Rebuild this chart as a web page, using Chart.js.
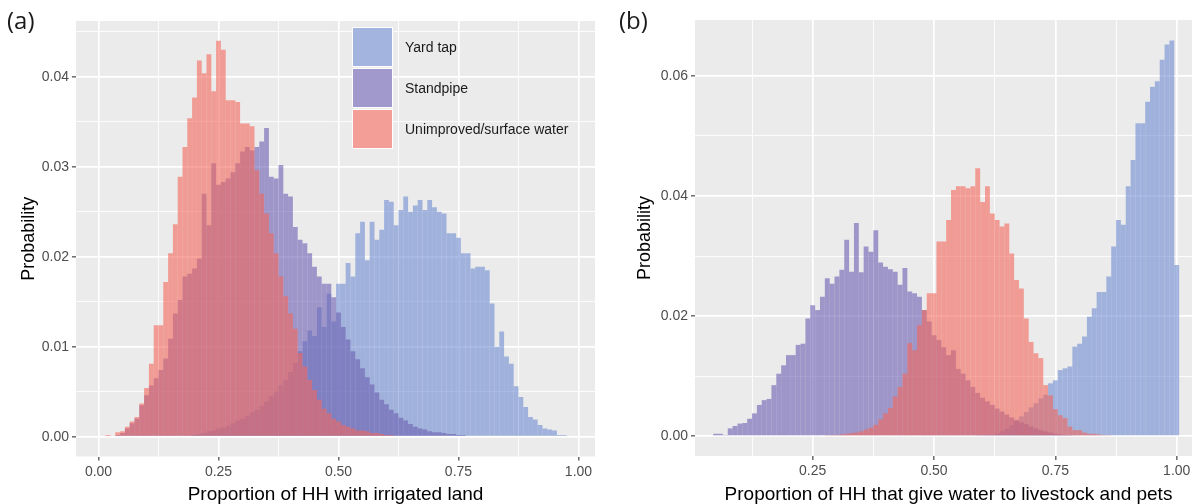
<!DOCTYPE html>
<html>
<head>
<meta charset="utf-8">
<title>Proportion of HH histograms</title>
<script src="https://cdn.jsdelivr.net/npm/chart.js@4.4.1/dist/chart.umd.min.js"></script>
<style>
  html, body { margin: 0; padding: 0; background: #ffffff; }
  #page { position: relative; width: 1192px; height: 504px; overflow: hidden; background: #ffffff;
          font-family: 'Liberation Sans', Arial, sans-serif; }
  canvas { position: absolute; top: 0; }
  #chartA { left: 0; }
  #chartB { left: 600px; }
  .tag { position: absolute; top: 8px; font-family: 'Open Sans', sans-serif; font-size: 24px;
         line-height: 1; color: #1a1a1a; }
  #legend { position: absolute; left: 352px; top: 26px; }
  .legend-row { display: flex; align-items: center; height: 41px; }
  .legend-key { width: 39px; height: 38px; background: #f2f2f2; border: 1.5px solid #ffffff; position: relative; }
  .legend-key div { position: absolute; inset: 0; }
  .legend-label { margin-left: 12px; font-size: 14px; color: #1a1a1a; white-space: nowrap; }
</style>
</head>
<body>
<div id="page">
  <canvas id="chartA" width="600" height="504"></canvas>
  <canvas id="chartB" width="602" height="504"></canvas>
  <div class="tag" style="left:7px">(a)</div>
  <div class="tag" style="left:619px">(b)</div>
  <div id="legend"></div>
</div>
<script>
// Histogram bins: bin k is centred on k * binWidth
const binWidth = 0.01;

const seriesNames = ['Yard tap', 'Standpipe', 'Unimproved/surface water'];
const seriesColors = ['rgba(110, 140, 210, 0.6)', 'rgba(107, 93, 177, 0.6)', 'rgba(243, 102, 90, 0.6)'];

// (a) Proportion of HH with irrigated land, bins 0.00 .. 0.99
const irrigYardTap = [
  0, 0, 0, 0, 0, 0, 0, 0, 0, 0,
  0, 0, 0, 0, 0, 0, 0, 0, 0, 0,
  0.0002, 0.0003, 0.0004, 0.0006, 0.0007, 0.0009, 0.0010, 0.0012, 0.0015, 0.0018,
  0.0020, 0.0023, 0.0027, 0.0030, 0.0034, 0.0039, 0.0045, 0.0050, 0.0057, 0.0063,
  0.0072, 0.0082, 0.0095, 0.0106, 0.0118, 0.0112, 0.0144, 0.0122, 0.0159, 0.0128,
  0.0170, 0.0170, 0.0193, 0.0178, 0.0226, 0.0239, 0.0196, 0.0239, 0.0219, 0.0230,
  0.0263, 0.0261, 0.0235, 0.0252, 0.0267, 0.0250, 0.0257, 0.0263, 0.0252, 0.0263,
  0.0255, 0.0250, 0.0248, 0.0226, 0.0226, 0.0221, 0.0204, 0.0204, 0.0187, 0.0189,
  0.0189, 0.0185, 0.0148, 0.0100, 0.0117, 0.0089, 0.0081, 0.0056, 0.0044, 0.0033,
  0.0022, 0.0019, 0.0013, 0.0009, 0.0008, 0.0007, 0.0002, 0.0002, 0, 0
];
const irrigStandpipe = [
  0, 0, 0, 0, 0.0002, 0.0004, 0.0009, 0.0015, 0.0020, 0.0035,
  0.0046, 0.0057, 0.0065, 0.0074, 0.0087, 0.0109, 0.0137, 0.0152, 0.0178, 0.0181,
  0.0187, 0.0198, 0.0270, 0.0235, 0.0304, 0.0280, 0.0283, 0.0287, 0.0294, 0.0304,
  0.0317, 0.0322, 0.0318, 0.0322, 0.0328, 0.0343, 0.0289, 0.0287, 0.0302, 0.0270,
  0.0267, 0.0233, 0.0219, 0.0215, 0.0204, 0.0189, 0.0178, 0.0170, 0.0170, 0.0155,
  0.0138, 0.0122, 0.0108, 0.0095, 0.0086, 0.0076, 0.0066, 0.0058, 0.0049, 0.0041,
  0.0036, 0.0030, 0.0026, 0.0021, 0.0018, 0.0014, 0.0011, 0.0009, 0.0008, 0.0006,
  0.0005, 0.0005, 0.0004, 0.0003, 0.0003, 0.0002, 0.0002, 0.0001, 0.0001, 0,
  0, 0, 0, 0, 0, 0, 0, 0, 0, 0,
  0, 0, 0, 0, 0, 0, 0, 0, 0, 0
];
const irrigUnimproved = [
  0, 0.0001, 0.0002, 0.0001, 0.0005, 0.0006, 0.0011, 0.0017, 0.0022, 0.0037,
  0.0054, 0.0081, 0.0124, 0.0124, 0.0172, 0.0204, 0.0236, 0.0289, 0.0322, 0.0354,
  0.0377, 0.0418, 0.0404, 0.0425, 0.0384, 0.0440, 0.0430, 0.0374, 0.0374, 0.0372,
  0.0348, 0.0348, 0.0345, 0.0296, 0.0270, 0.0248, 0.0226, 0.0204, 0.0178, 0.0156,
  0.0137, 0.0120, 0.0093, 0.0078, 0.0063, 0.0052, 0.0041, 0.0031, 0.0026, 0.0020,
  0.0017, 0.0013, 0.0011, 0.0009, 0.0007, 0.0007, 0.0006, 0.0004, 0.0004, 0.0003,
  0.0002, 0.0002, 0.0001, 0.0001, 0.0001, 0, 0, 0, 0, 0,
  0, 0, 0, 0, 0, 0, 0, 0, 0, 0,
  0, 0, 0, 0, 0, 0, 0, 0, 0, 0,
  0, 0, 0, 0, 0, 0, 0, 0, 0, 0
];

// (b) Proportion of HH that give water to livestock and pets, bins 0.00 .. 1.00
const livestockYardTap = [
  0, 0, 0, 0, 0, 0, 0, 0, 0, 0,
  0, 0, 0, 0, 0, 0, 0, 0, 0, 0,
  0, 0, 0, 0, 0, 0, 0, 0, 0, 0,
  0, 0, 0, 0, 0, 0, 0, 0, 0, 0,
  0, 0, 0, 0, 0, 0, 0, 0, 0, 0,
  0, 0, 0, 0, 0, 0, 0, 0, 0, 0.0001,
  0.0001, 0.0001, 0.0002, 0.0004, 0.0008, 0.0012, 0.0018, 0.0025, 0.0033, 0.0040,
  0.0048, 0.0055, 0.0063, 0.0069, 0.0088, 0.0093, 0.0110, 0.0113, 0.0116, 0.0149,
  0.0154, 0.0166, 0.0199, 0.0213, 0.0240, 0.0240, 0.0266, 0.0316, 0.0360, 0.0352,
  0.0416, 0.0460, 0.0521, 0.0521, 0.0557, 0.0582, 0.0591, 0.0627, 0.0652, 0.0659,
  0.0285
];
const livestockStandpipe = [
  0, 0, 0, 0, 0, 0.0004, 0.0004, 0.0002, 0.0013, 0.0017,
  0.0021, 0.0022, 0.0029, 0.0038, 0.0052, 0.0060, 0.0062, 0.0085, 0.0104, 0.0118,
  0.0135, 0.0135, 0.0152, 0.0154, 0.0196, 0.0218, 0.0210, 0.0232, 0.0263, 0.0254,
  0.0266, 0.0277, 0.0327, 0.0274, 0.0355, 0.0273, 0.0316, 0.0307, 0.0343, 0.0289,
  0.0282, 0.0278, 0.0274, 0.0252, 0.0280, 0.0241, 0.0238, 0.0232, 0.0210, 0.0191,
  0.0168, 0.0160, 0.0148, 0.0135, 0.0143, 0.0112, 0.0104, 0.0093, 0.0082, 0.0072,
  0.0064, 0.0058, 0.0052, 0.0046, 0.0041, 0.0036, 0.0031, 0.0027, 0.0023, 0.0020,
  0.0016, 0.0013, 0.0010, 0.0008, 0.0006, 0.0004, 0.0003, 0.0002, 0.0001, 0,
  0, 0, 0, 0, 0, 0, 0, 0, 0, 0,
  0, 0, 0, 0, 0, 0, 0, 0, 0, 0,
  0
];
const livestockUnimproved = [
  0, 0, 0, 0, 0, 0, 0, 0, 0, 0,
  0, 0, 0, 0, 0, 0, 0, 0, 0, 0,
  0, 0, 0, 0, 0, 0, 0, 0, 0.0001, 0.0002,
  0.0002, 0.0003, 0.0004, 0.0005, 0.0006, 0.0008, 0.0011, 0.0014, 0.0019, 0.0028,
  0.0038, 0.0047, 0.0066, 0.0082, 0.0104, 0.0155, 0.0143, 0.0185, 0.0210, 0.0238,
  0.0238, 0.0324, 0.0324, 0.0360, 0.0410, 0.0416, 0.0416, 0.0413, 0.0416, 0.0446,
  0.0390, 0.0416, 0.0371, 0.0360, 0.0349, 0.0354, 0.0304, 0.0260, 0.0246, 0.0196,
  0.0157, 0.0138, 0.0130, 0.0085, 0.0068, 0.0045, 0.0035, 0.0030, 0.0016, 0.0010,
  0.0010, 0.0006, 0.0004, 0.0004, 0.0003, 0.0002, 0.0001, 0, 0, 0,
  0, 0, 0, 0, 0, 0, 0, 0, 0, 0,
  0
];

// Axis breaks (major labelled, minor only as thin grid lines)
const irrigXTicks = [0, 0.25, 0.5, 0.75, 1];
const irrigXMinor = [0.125, 0.375, 0.625, 0.875];
const irrigYTicks = [0, 0.01, 0.02, 0.03, 0.04];
const irrigYMinor = [0.005, 0.015, 0.025, 0.035, 0.045];
const livestockXTicks = [0.25, 0.5, 0.75, 1];
const livestockXMinor = [0.125, 0.375, 0.625, 0.875];
const livestockYTicks = [0, 0.02, 0.04, 0.06];
const livestockYMinor = [0.01, 0.03, 0.05];

Chart.defaults.font.family = "'Liberation Sans', Arial, sans-serif";
Chart.defaults.animation = false;

// grey ggplot-style panel behind the grid
const panelBackground = {
    id: 'panelBackground',
    beforeDraw(chart) {
        const { ctx, chartArea } = chart;
        ctx.save();
        ctx.fillStyle = '#EBEBEB';
        ctx.fillRect(chartArea.left, chartArea.top, chartArea.right - chartArea.left, chartArea.bottom - chartArea.top);
        ctx.restore();
    }
};

function toBins(values) {
    return values.map((y, k) => ({ x: Math.round(k * binWidth * 100) / 100, y: y }));
}

function isIn(list, v) {
    return list.some(m => Math.abs(m - v) < 1e-9);
}

function makeScale(cfg) {
    const all = cfg.major.concat(cfg.minor).sort((a, b) => a - b);
    return {
        type: 'linear',
        position: cfg.position,
        min: cfg.min,
        max: cfg.max,
        offset: false,
        border: { display: false },
        afterBuildTicks: (scale) => {
            scale.ticks = all.map(v => ({ value: v }));
        },
        afterFit: (scale) => {
            if (scale.isHorizontal()) {
                scale.height = cfg.size;
            } else {
                scale.width = cfg.size;
            }
        },
        ticks: {
            autoSkip: false,
            maxRotation: 0,
            padding: 3,
            color: '#4D4D4D',
            font: { size: 14 },
            callback: (v) => isIn(cfg.major, v) ? v.toFixed(2) : ''
        },
        grid: {
            offset: false,
            color: '#FFFFFF',
            lineWidth: (c) => (c.tick && isIn(cfg.major, c.tick.value)) ? 1.7 : 0.85,
            drawTicks: true,
            tickLength: 4,
            tickWidth: 1.1,
            tickColor: (c) => (c.tick && isIn(cfg.major, c.tick.value)) ? '#333333' : 'rgba(0,0,0,0)'
        },
        title: {
            display: true,
            text: cfg.title,
            color: '#000000',
            font: { size: cfg.titleSize, lineHeight: 1 },
            padding: cfg.titlePadding
        }
    };
}

function renderPanel(canvasId, panel) {
    const ctx = document.getElementById(canvasId);
    const datasets = panel.series.map((values, i) => ({
        label: seriesNames[i],
        data: toBins(values),
        backgroundColor: seriesColors[i],
        borderWidth: 0,
        grouped: false,
        barPercentage: 1,
        categoryPercentage: 1,
        inflateAmount: 0,
        order: panel.series.length - i
    }));

    return new Chart(ctx, {
        type: 'bar',
        data: { datasets: datasets },
        options: {
            responsive: false,
            maintainAspectRatio: false,
            layout: { padding: panel.padding },
            plugins: {
                legend: { display: false },
                tooltip: { enabled: false }
            },
            scales: {
                x: makeScale(panel.x),
                y: makeScale(panel.y)
            }
        },
        plugins: [panelBackground]
    });
}

function renderLegend() {
    const box = document.getElementById('legend');
    seriesNames.forEach((name, i) => {
        const row = document.createElement('div');
        row.className = 'legend-row';
        row.innerHTML = `<div class="legend-key"><div style="background:${seriesColors[i]}"></div></div>` +
                        `<span class="legend-label">${name}</span>`;
        box.appendChild(row);
    });
}

renderPanel('chartA', {
    series: [irrigYardTap, irrigStandpipe, irrigUnimproved],
    padding: { left: 0, top: 21, right: 5, bottom: 0 },
    x: { position: 'bottom', min: -0.0469, max: 1.0344, major: irrigXTicks, minor: irrigXMinor, size: 47.5,
         title: 'Proportion of HH with irrigated land', titleSize: 19, titlePadding: { top: 0, bottom: 0 } },
    y: { position: 'left', min: -0.0022, max: 0.0462, major: irrigYTicks, minor: irrigYMinor, size: 76,
         title: 'Probability', titleSize: 18, titlePadding: { top: 20, bottom: 0 } }
});

renderPanel('chartB', {
    series: [livestockYardTap, livestockStandpipe, livestockUnimproved],
    padding: { left: 0, top: 20, right: 0, bottom: 0 },
    x: { position: 'bottom', min: 0.0075, max: 1.0521, major: livestockXTicks, minor: livestockXMinor, size: 48,
         title: 'Proportion of HH that give water to livestock and pets', titleSize: 19, titlePadding: { top: 0, bottom: 0 } },
    y: { position: 'left', min: -0.0033, max: 0.0693, major: livestockYTicks, minor: livestockYMinor, size: 95,
         title: 'Probability', titleSize: 18, titlePadding: { top: 36, bottom: 0 } }
});

renderLegend();
</script>
</body>
</html>
